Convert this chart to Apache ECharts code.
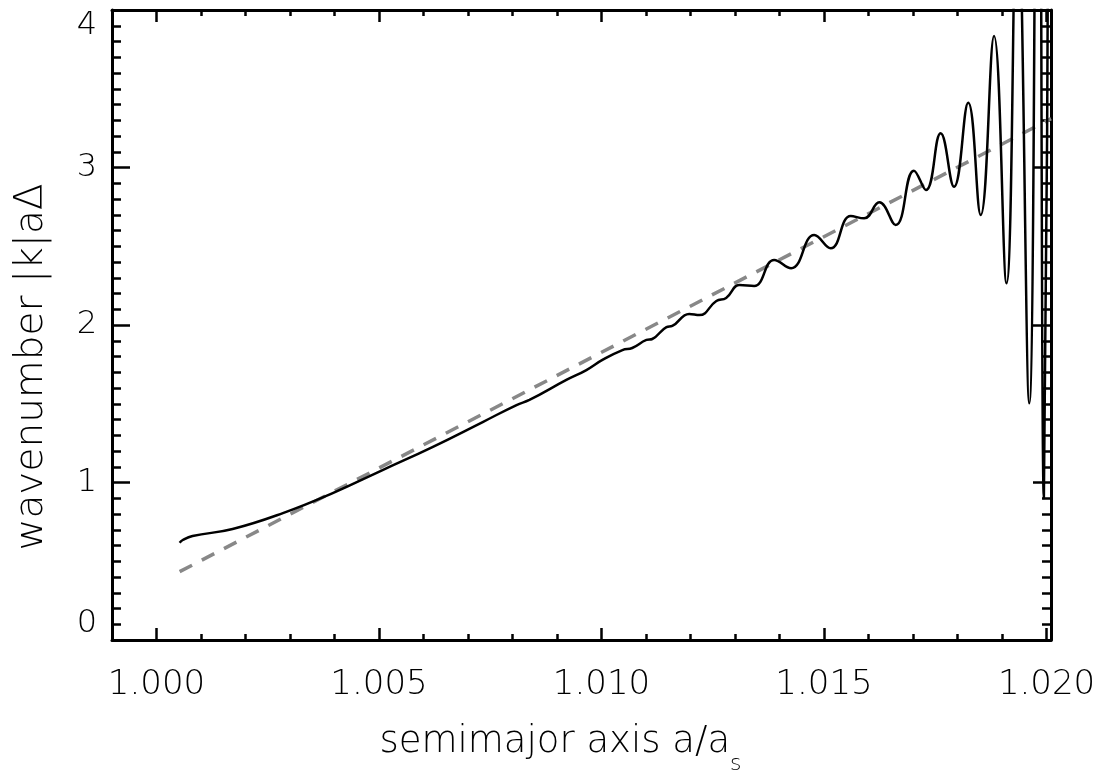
<!DOCTYPE html>
<html>
<head>
<meta charset="utf-8">
<script src="https://cdn.jsdelivr.net/npm/echarts@6/dist/echarts.min.js"></script>
<style>
html,body{margin:0;padding:0;background:#fff;}
#chart{width:1116px;height:772px;}
</style>
</head>
<body>
<div id="chart"></div>
<script>
// semimajor axis a/a_s (black curve)
const curveX = [1.00052, 1.00059, 1.00081, 1.00171, 1.00284, 1.00396, 1.00508, 1.00620, 1.00733, 1.00809,
  1.00838, 1.00921, 1.00966, 1.01002, 1.01047, 1.01069, 1.01101, 1.01114, 1.01146, 1.01159,
  1.01197, 1.01220, 1.01258, 1.01280, 1.01310, 1.01343, 1.01388, 1.01426, 1.01478, 1.01515,
  1.01560, 1.01590, 1.01624, 1.01661, 1.01702, 1.01729, 1.01762, 1.01792, 1.01824, 1.01852,
  1.01882, 1.01910, 1.01934, 1.01961, 1.01981, 1.01994, 1.02005];
// wavenumber |k|aΔ (black curve)
const curveY = [0.618, 0.635, 0.660, 0.705, 0.806, 0.933, 1.079, 1.225, 1.384, 1.492,
  1.524, 1.651, 1.714, 1.778, 1.841, 1.854, 1.905, 1.911, 1.987, 1.994,
  2.070, 2.063, 2.152, 2.171, 2.254, 2.248, 2.413, 2.360, 2.571, 2.487,
  2.692, 2.677, 2.779, 2.635, 2.980, 2.857, 3.217, 2.878, 3.411, 2.698,
  3.835, 2.265, 4.8, 1.503, 7.0, 0.90, 5.5];
// gray dashed fit line
const fitX = [1.00052, 1.0201];
const fitY = [0.434, 3.31];
// axis ticks
const xMajorTicks = [1.000, 1.005, 1.010, 1.015, 1.020];
const xMinorTicks = [0.999, 1.001, 1.002, 1.003, 1.004, 1.006, 1.007, 1.008, 1.009, 1.011, 1.012, 1.013, 1.014, 1.016, 1.017, 1.018, 1.019];
const yTicks = [0, 1, 2, 3, 4];

const FONT = 'DejaVu Sans';
const XMIN = 0.999, XMAX = 1.0201;

const curveData = curveX.map((x, i) => [x, curveY[i]]);
const fitData = fitX.map((x, i) => [x, fitY[i]]);

function xAx(pos, values, len, showLine, showLabel) {
  return {
    type: 'value', position: pos, min: XMIN, max: XMAX,
    axisLine: {show: showLine, onZero: false, lineStyle: {color: '#000', width: 3}},
    axisTick: {show: true, inside: true, length: len, customValues: values, lineStyle: {color: '#000', width: 2.5}},
    axisLabel: {show: showLabel, customValues: values, margin: 28, color: '#000', fontSize: 34, fontFamily: FONT, fontWeight: 200,
      formatter: v => v.toFixed(3)},
    splitLine: {show: false}
  };
}

function yAx(pos, showLabel) {
  return {
    type: 'value', position: pos, min: 0, max: 4, interval: 1,
    axisLine: {show: true, onZero: false, lineStyle: {color: '#000', width: 3}},
    axisTick: {show: true, inside: true, length: 18, lineStyle: {color: '#000', width: 2.5}},
    minorTick: {show: true, splitNumber: 10, length: 9, lineStyle: {color: '#000', width: 2.5}},
    axisLabel: {show: showLabel, customValues: yTicks, margin: 15, color: '#000', fontSize: 32, fontFamily: FONT, fontWeight: 200,
      verticalAlignMinLabel: 'bottom', verticalAlignMaxLabel: 'top'},
    splitLine: {show: false}, minorSplitLine: {show: false}
  };
}

const xAxes = [
  Object.assign(xAx('bottom', xMajorTicks, 12, true, true), {
    name: 'semimajor axis a/a{sub|s}', nameLocation: 'middle', nameGap: 84,
    nameTextStyle: {color: '#000', fontSize: 37, fontFamily: FONT, fontWeight: 200, padding: [0, 42, 0, 0],
      rich: {sub: {fontSize: 22, fontFamily: FONT, fontWeight: 200, color: '#000', verticalAlign: 'bottom', padding: [0, 0, -14, 0]}}}
  }),
  xAx('bottom', xMinorTicks, 6, false, false),
  xAx('top', xMajorTicks, 12, true, false),
  xAx('top', xMinorTicks, 6, false, false)
];

const yAxes = [
  Object.assign(yAx('left', true), {
    name: 'wavenumber |k|aΔ', nameLocation: 'middle', nameGap: 61, nameRotate: 90,
    nameTextStyle: {color: '#000', fontSize: 39, fontFamily: FONT, fontWeight: 200, padding: [0, 84, 0, 0]}
  }),
  yAx('right', false)
];

const chart = echarts.init(document.getElementById('chart'), null, {renderer: 'canvas'});
chart.setOption({
  backgroundColor: '#fff',
  animation: false,
  grid: {left: 112, right: 65, top: 10, bottom: 132, containLabel: false, outerBoundsMode: 'none'},
  xAxis: xAxes,
  yAxis: yAxes,
  series: [
    {
      type: 'line', xAxisIndex: 0, yAxisIndex: 0, data: fitData, showSymbol: false, clip: true,
      lineStyle: {color: '#888888', width: 3.5, type: [14, 11]}, z: 2
    },
    {
      type: 'line', xAxisIndex: 0, yAxisIndex: 0, data: curveData, showSymbol: false, clip: true,
      smooth: 0.45, lineStyle: {color: '#000', width: 2.5}, z: 3
    }
  ]
});
</script>
</body>
</html>
